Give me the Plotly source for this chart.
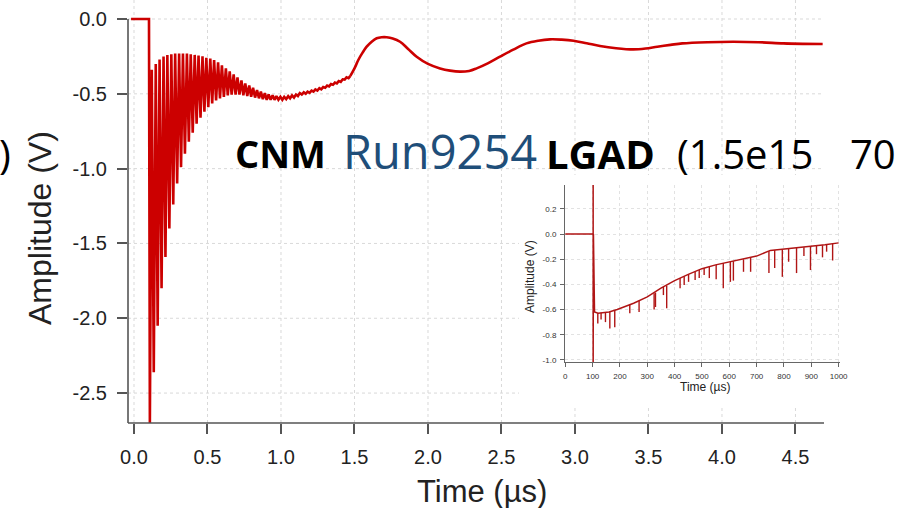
import plotly.graph_objects as go

# ---------------- main waveform (Time in us, Amplitude in V) ----------------
pre_t = [-0.02, 0.102]
pre_v = [0.0, 0.0]

trough_t = [0.108, 0.1345, 0.161, 0.1875, 0.214, 0.2405, 0.267, 0.2935, 0.320, 0.3465,
            0.373, 0.3995, 0.426, 0.4525, 0.479, 0.5055, 0.532, 0.5585, 0.585, 0.6115,
            0.638, 0.6645, 0.691, 0.7175, 0.744, 0.7705, 0.797, 0.8235, 0.850, 0.8765,
            0.903, 0.9295, 0.956, 0.9825, 1.009, 1.0355, 1.062, 1.0885, 1.115, 1.1415,
            1.168, 1.1945, 1.221, 1.2475, 1.274, 1.3005, 1.327, 1.3535, 1.380, 1.4065,
            1.433, 1.4595]
trough_v = [-2.70, -2.36, -2.05, -1.80, -1.59, -1.40, -1.24, -1.10, -0.99, -0.90,
            -0.82, -0.76, -0.70, -0.66, -0.62, -0.59, -0.565, -0.545, -0.53, -0.52,
            -0.51, -0.505, -0.505, -0.505, -0.51, -0.515, -0.52, -0.525, -0.53, -0.535,
            -0.54, -0.54, -0.54, -0.54, -0.54, -0.535, -0.53, -0.525, -0.515, -0.505,
            -0.50, -0.493, -0.485, -0.478, -0.47, -0.46, -0.45, -0.44, -0.43, -0.42,
            -0.405, -0.395]
peak_t = [0.121, 0.148, 0.174, 0.201, 0.227, 0.254, 0.280, 0.307, 0.333, 0.360,
          0.386, 0.413, 0.439, 0.466, 0.492, 0.519, 0.545, 0.572, 0.598, 0.625,
          0.651, 0.678, 0.704, 0.731, 0.757, 0.784, 0.810, 0.837, 0.863, 0.890,
          0.916, 0.943, 0.969, 0.996, 1.022, 1.049, 1.075, 1.102, 1.128, 1.155,
          1.181, 1.208, 1.234, 1.261, 1.287, 1.314, 1.340, 1.367, 1.393, 1.420,
          1.446, 1.472]
peak_v = [-0.34, -0.30, -0.27, -0.25, -0.24, -0.235, -0.23, -0.23, -0.23, -0.23,
          -0.235, -0.24, -0.245, -0.25, -0.26, -0.265, -0.275, -0.29, -0.31, -0.33,
          -0.35, -0.37, -0.39, -0.41, -0.43, -0.445, -0.46, -0.475, -0.485, -0.495,
          -0.505, -0.51, -0.515, -0.52, -0.52, -0.515, -0.51, -0.505, -0.495, -0.49,
          -0.485, -0.478, -0.47, -0.462, -0.455, -0.445, -0.435, -0.425, -0.415, -0.403,
          -0.39, -0.38]

tail_t = [1.472, 1.50, 1.526, 1.555, 1.583, 1.615, 1.651, 1.685, 1.719, 1.76, 1.81,
          1.865, 1.923, 2.00, 2.082, 2.15, 2.218, 2.28, 2.331, 2.41, 2.49,
          2.58, 2.67, 2.75, 2.83, 2.91, 2.99, 3.08, 3.17, 3.28, 3.397,
          3.48, 3.56, 3.65, 3.73, 3.90, 4.077, 4.25, 4.417, 4.55, 4.685]
tail_v = [-0.38, -0.33, -0.274, -0.225, -0.185, -0.153, -0.129, -0.122, -0.122, -0.13, -0.152,
          -0.20, -0.252, -0.30, -0.330, -0.345, -0.352, -0.347, -0.330, -0.295, -0.252,
          -0.205, -0.163, -0.145, -0.136, -0.138, -0.145, -0.162, -0.18, -0.195, -0.203,
          -0.197, -0.185, -0.173, -0.163, -0.155, -0.152, -0.155, -0.163, -0.166, -0.167]

main_xticks = [0.0, 0.5, 1.0, 1.5, 2.0, 2.5, 3.0, 3.5, 4.0, 4.5]
main_xlabels = ["0.0", "0.5", "1.0", "1.5", "2.0", "2.5", "3.0", "3.5", "4.0", "4.5"]
main_yticks = [0.0, -0.5, -1.0, -1.5, -2.0, -2.5]
main_ylabels = ["0.0", "-0.5", "-1.0", "-1.5", "-2.0", "-2.5"]

# ---------------- inset waveform (Time in us, Amplitude in V) ----------------
inset_t = [0, 102, 102, 102, 103, 107, 120, 160, 190, 250, 300, 350, 400, 450, 500,
           550, 600, 650, 700, 750, 800, 850, 900, 950, 1000]
inset_v = [0, 0, 0.45, -1.05, 0, -0.62, -0.63, -0.62, -0.60, -0.55, -0.50, -0.43, -0.37,
           -0.32, -0.275, -0.245, -0.22, -0.20, -0.175, -0.13, -0.12, -0.11, -0.10, -0.085, -0.07]
spike_t = [119, 131, 147, 163, 181, 236, 270, 325, 330, 359, 371, 420, 435, 451, 475,
           490, 508, 527, 552, 578, 604, 615, 652, 678, 745, 766, 794, 817, 846, 873,
           897, 919, 941, 956, 978]
spike_top = [-0.63, -0.625, -0.62, -0.62, -0.605, -0.56, -0.53, -0.47, -0.465, -0.42,
             -0.41, -0.35, -0.335, -0.32, -0.30, -0.285, -0.27, -0.26, -0.245, -0.23,
             -0.22, -0.215, -0.20, -0.185, -0.135, -0.127, -0.121, -0.117, -0.111, -0.105,
             -0.10, -0.095, -0.089, -0.085, -0.078]
spike_bottom = [-0.71, -0.68, -0.70, -0.75, -0.74, -0.63, -0.62, -0.60, -0.58, -0.485,
                -0.59, -0.43, -0.405, -0.38, -0.365, -0.35, -0.326, -0.35, -0.36, -0.43,
                -0.38, -0.37, -0.30, -0.30, -0.31, -0.27, -0.34, -0.22, -0.31, -0.175,
                -0.286, -0.16, -0.185, -0.14, -0.21]
inset_xticks = [0, 100, 200, 300, 400, 500, 600, 700, 800, 900, 1000]
inset_yticks = [0.2, 0.0, -0.2, -0.4, -0.6, -0.8, -1.0]
inset_ylabels = ["0.2", "0.0", "-0.2", "-0.4", "-0.6", "-0.8", "-1.0"]

# ---------------- build traces ----------------
osc_t = list(pre_t)
osc_v = list(pre_v)
for tt, tv, pt, pv in zip(trough_t, trough_v, peak_t, peak_v):
    osc_t += [tt, pt]
    osc_v += [tv, pv]

sp_x, sp_y = [], []
for t, a, b in zip(spike_t, spike_top, spike_bottom):
    sp_x += [t, t, None]
    sp_y += [a, b, None]

RED = "#CC0000"
fig = go.Figure()
fig.add_trace(go.Scatter(x=osc_t, y=osc_v, mode="lines", line=dict(color=RED, width=2.6),
                         hoverinfo="skip"))
fig.add_trace(go.Scatter(x=tail_t, y=tail_v, mode="lines",
                         line=dict(color=RED, width=2.6, shape="spline"), hoverinfo="skip"))
fig.add_trace(go.Scatter(x=inset_t, y=inset_v, mode="lines", xaxis="x2", yaxis="y2",
                         line=dict(color="#B01515", width=1.5), hoverinfo="skip"))
fig.add_trace(go.Scatter(x=sp_x, y=sp_y, mode="lines", xaxis="x2", yaxis="y2",
                         line=dict(color="#B01515", width=1.4), hoverinfo="skip"))

# ---------------- geometry helpers (pixel -> paper) ----------------
L, R, T, B = 128, 44, 0, 85
W, H = 904, 508
PW, PH = W - L - R, H - T - B


def X(px):
    return (px - L) / PW


def Y(py):
    return (H - B - py) / PH


XMIN, XMAX = -0.0408, 4.939
YMIN, YMAX = -2.70, 0.127
AXC = "#555555"
TXT = "#222222"
FONT = "Liberation Sans, Arial, sans-serif"

shapes = []
grid = dict(color="#d9d9d9", width=1, dash="dot")
for v in main_xticks:
    shapes.append(dict(type="line", xref="x", yref="y", x0=v, x1=v, y0=YMIN, y1=YMAX,
                       line=grid, layer="below"))
for v in main_yticks:
    shapes.append(dict(type="line", xref="x", yref="y", x0=XMIN, x1=4.68, y0=v, y1=v,
                       line=grid, layer="below"))
# white panel behind inset
shapes.append(dict(type="rect", xref="x", yref="y", x0=2.619, x1=5.2, y0=-2.58, y1=-1.043,
                   fillcolor="white", line=dict(width=0), layer="below"))
# main axis lines
shapes.append(dict(type="line", xref="paper", yref="paper", x0=0, x1=0, y0=0, y1=Y(19),
                   line=dict(color=AXC, width=1.6), layer="above"))
shapes.append(dict(type="line", xref="paper", yref="paper", x0=0, x1=X(824), y0=0, y1=0,
                   line=dict(color=AXC, width=1.6), layer="above"))

ann = []
ov = "Open Sans, Noto Sans, sans-serif"
ann.append(dict(text=")", x=X(13), y=Y(153), xanchor="right", yanchor="middle",
                font=dict(family=ov, size=40, color="black")))
ann.append(dict(text="<b>CNM</b>", x=X(233), y=Y(153), xanchor="left", yanchor="middle",
                font=dict(family=ov, size=38, color="black")))
ann.append(dict(text="Run9254", x=X(341), y=Y(151), xanchor="left", yanchor="middle",
                font=dict(family=ov, size=47, color="#1F4E79")))
ann.append(dict(text="<b>LGAD</b>", x=X(544), y=Y(153), xanchor="left", yanchor="middle",
                font=dict(family=ov, size=40, color="black")))
ann.append(dict(text="(1.5e15", x=X(675), y=Y(153), xanchor="left", yanchor="middle",
                font=dict(family=ov, size=40, color="black")))
ann.append(dict(text="70", x=X(848), y=Y(153), xanchor="left", yanchor="middle",
                font=dict(family=ov, size=40, color="black")))
ann.append(dict(text="Amplitude (V)", x=X(40), y=Y(228), textangle=-90, xanchor="center",
                yanchor="middle", font=dict(family=FONT, size=32, color=TXT)))
ann.append(dict(text="Time (µs)", x=X(482), y=Y(491), xanchor="center", yanchor="middle",
                font=dict(family=FONT, size=31, color=TXT)))
ann.append(dict(text="Amplitude (V)", x=X(530), y=Y(277), textangle=-90, xanchor="center",
                yanchor="middle", font=dict(family=FONT, size=12, color=TXT)))
ann.append(dict(text="Time (µs)", x=X(705), y=Y(387), xanchor="center", yanchor="middle",
                font=dict(family=FONT, size=12, color=TXT)))
for a in ann:
    a.update(xref="paper", yref="paper", showarrow=False)

fig.update_layout(
    width=W, height=H, autosize=False,
    margin=dict(l=L, r=R, t=T, b=B, pad=0),
    paper_bgcolor="white", plot_bgcolor="white", showlegend=False,
    xaxis=dict(range=[XMIN, XMAX], tickvals=main_xticks, ticktext=main_xlabels,
               ticks="outside", ticklen=10, tickwidth=1.6, tickcolor=AXC,
               showgrid=False, zeroline=False, showline=False,
               tickfont=dict(family=FONT, size=20, color=TXT), ticklabelstandoff=6),
    yaxis=dict(range=[YMIN, YMAX], tickvals=main_yticks, ticktext=main_ylabels,
               ticks="outside", ticklen=10, tickwidth=1.6, tickcolor=AXC,
               showgrid=False, zeroline=False, showline=False,
               tickfont=dict(family=FONT, size=20, color=TXT), ticklabelstandoff=6),
    xaxis2=dict(domain=[X(565), X(840)], anchor="y2", range=[-1, 1005],
                tickvals=inset_xticks, ticks="outside", ticklen=4, tickwidth=1, tickcolor="#666",
                showline=True, linecolor="#666", linewidth=1, zeroline=False,
                showgrid=True, gridcolor="#e2e2e2", griddash="dot", gridwidth=1,
                tickfont=dict(family=FONT, size=8, color="#333"), ticklabelstandoff=2),
    yaxis2=dict(domain=[Y(362), Y(185)], anchor="x2", range=[-1.017, 0.39],
                tickvals=inset_yticks, ticktext=inset_ylabels, ticks="outside", ticklen=4,
                tickwidth=1, tickcolor="#666",
                showline=True, linecolor="#666", linewidth=1, zeroline=False,
                showgrid=True, gridcolor="#e2e2e2", griddash="dot", gridwidth=1,
                tickfont=dict(family=FONT, size=8, color="#333"), ticklabelstandoff=2),
    shapes=shapes,
    annotations=ann,
)

fig.write_html("out.html")
